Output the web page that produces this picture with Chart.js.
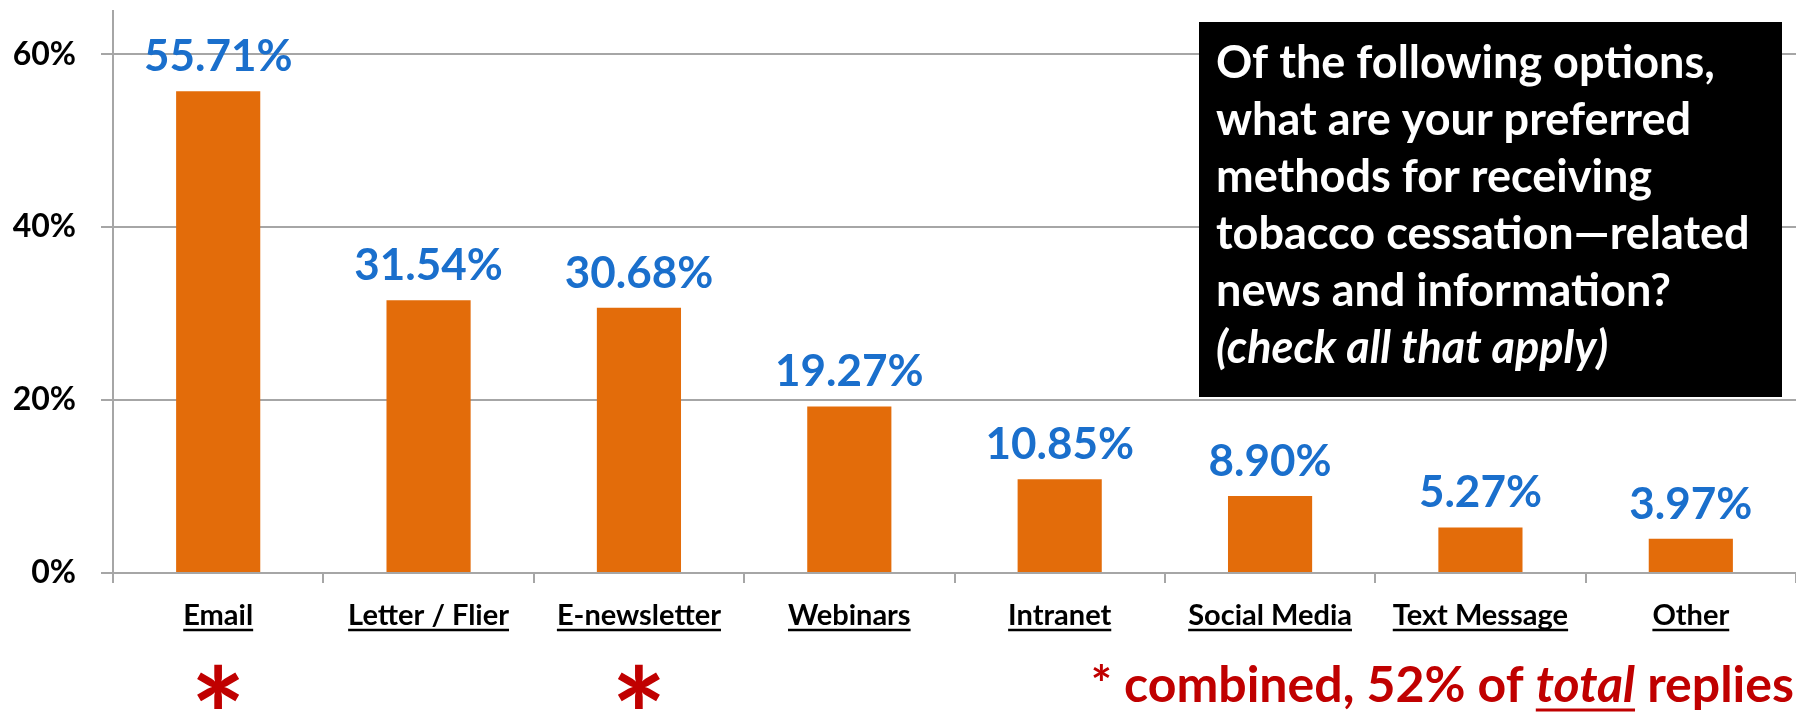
<!DOCTYPE html>
<html>
<head>
<meta charset="utf-8">
<script src="https://cdn.jsdelivr.net/npm/chart.js@4.4.1/dist/chart.umd.min.js"></script>
<style>
  html, body { margin: 0; padding: 0; background: #ffffff; }
  canvas { display: block; }
</style>
</head>
<body>
<canvas id="prefChart" width="1796" height="715"></canvas>
<script>
// values
const categories = ['Email', 'Letter / Flier', 'E-newsletter', 'Webinars', 'Intranet', 'Social Media', 'Text Message', 'Other'];
const percentReplies = [55.71, 31.54, 30.68, 19.27, 10.85, 8.90, 5.27, 3.97];
const yTickValues = [0, 20, 40, 60];
const starredCategories = ['Email', 'E-newsletter'];
const questionLines = [
    'Of the following options,',
    'what are your preferred',
    'methods for receiving',
    'tobacco cessation\u2014related',
    'news and information?'
];
const questionNote = '(check all that apply)';
const footnoteParts = ['* combined, 52% of ', 'total', ' replies'];

const FONT = 'Lato, "Open Sans", sans-serif';
const ORANGE = '#E36C0A';
const BLUE = '#1A6FCC';
const RED = '#C00000';
const GRID = '#A6A6A6';

const extrasPlugin = {
    id: 'slideExtras',
    afterDatasetsDraw(chart) {
        const ctx = chart.ctx;
        const meta = chart.getDatasetMeta(0);
        ctx.save();
        ctx.fillStyle = BLUE;
        ctx.font = 'bold 44px ' + FONT;
        ctx.textAlign = 'center';
        ctx.textBaseline = 'alphabetic';
        meta.data.forEach((bar, i) => {
            ctx.fillText(percentReplies[i].toFixed(2) + '%', bar.x, bar.y - 20);
        });
        ctx.restore();
    },
    afterDraw(chart) {
        const ctx = chart.ctx;
        const xScale = chart.scales.x;
        const area = chart.chartArea;
        ctx.save();

        // underline the category labels
        ctx.font = 'bold 29px ' + FONT;
        ctx.strokeStyle = '#000';
        ctx.lineWidth = 2.5;
        categories.forEach((c, i) => {
            const x = xScale.getPixelForTick(i);
            const w = ctx.measureText(c).width;
            ctx.beginPath();
            ctx.moveTo(x - w / 2, area.bottom + 57);
            ctx.lineTo(x + w / 2, area.bottom + 57);
            ctx.stroke();
        });

        // red stars under the combined categories
        ctx.fillStyle = RED;
        ctx.font = 'bold 130px ' + FONT;
        ctx.textAlign = 'center';
        ctx.textBaseline = 'alphabetic';
        const m = ctx.measureText('*');
        const starOffset = (m.actualBoundingBoxAscent - m.actualBoundingBoxDescent) / 2;
        starredCategories.forEach(c => {
            const x = xScale.getPixelForTick(categories.indexOf(c));
            ctx.fillText('*', x, 686 + starOffset);
        });

        // footnote
        ctx.textAlign = 'left';
        const fonts = ['bold 50px ' + FONT, 'italic bold 50px ' + FONT, 'bold 50px ' + FONT];
        const widths = footnoteParts.map((p, i) => { ctx.font = fonts[i]; return ctx.measureText(p).width; });
        let fx = 1794 - widths.reduce((a, b) => a + b, 0);
        const fy = 702;
        footnoteParts.forEach((p, i) => {
            ctx.font = fonts[i];
            ctx.fillText(p, fx, fy);
            if (i === 1) {
                ctx.strokeStyle = RED;
                ctx.lineWidth = 3;
                ctx.beginPath();
                ctx.moveTo(fx, fy + 8);
                ctx.lineTo(fx + widths[i], fy + 8);
                ctx.stroke();
            }
            fx += widths[i];
        });

        // question box
        ctx.fillStyle = '#000';
        ctx.fillRect(1199, 22, 583, 375);
        ctx.fillStyle = '#fff';
        ctx.font = 'bold 45px ' + FONT;
        questionLines.forEach((line, i) => {
            ctx.fillText(line, 1216, 78 + i * 57);
        });
        ctx.font = 'italic bold 45px ' + FONT;
        ctx.fillText(questionNote, 1216, 78 + questionLines.length * 57);

        ctx.restore();
    }
};

const ctx = document.getElementById('prefChart').getContext('2d');
new Chart(ctx, {
    type: 'bar',
    data: {
        labels: categories,
        datasets: [
            {
                label: 'Preferred method',
                data: percentReplies,
                backgroundColor: ORANGE,
                categoryPercentage: 1,
                barPercentage: 0.4,
            },
        ],
    },
    options: {
        responsive: false,
        animation: false,
        layout: {
            padding: { top: 11, right: 0, bottom: 0, left: 0 },
        },
        scales: {
            x: {
                afterFit: (scale) => {
                    scale.height = 142;
                    scale.paddingLeft = 0;
                    scale.paddingRight = 0;
                },
                grid: {
                    offset: true,
                    drawOnChartArea: false,
                    color: GRID,
                    lineWidth: 2,
                    tickLength: 10,
                },
                border: { color: GRID, width: 2 },
                ticks: {
                    color: '#000',
                    padding: 15,
                    font: { family: FONT, size: 29, weight: 'bold' },
                },
            },
            y: {
                min: 0,
                max: 65,
                afterFit: (scale) => {
                    scale.width = 113;
                    scale.paddingTop = 0;
                    scale.paddingBottom = 0;
                },
                afterBuildTicks: (scale) => {
                    scale.ticks = yTickValues.map(v => ({ value: v }));
                },
                grid: {
                    color: GRID,
                    lineWidth: 2,
                    tickLength: 12,
                },
                border: { color: GRID, width: 2 },
                ticks: {
                    color: '#000',
                    padding: 25,
                    font: { family: FONT, size: 32, weight: 'bold' },
                    callback: (v) => v + '%',
                },
            },
        },
        plugins: {
            legend: { display: false },
            tooltip: { enabled: false },
        },
    },
    plugins: [extrasPlugin],
});
</script>
</body>
</html>
